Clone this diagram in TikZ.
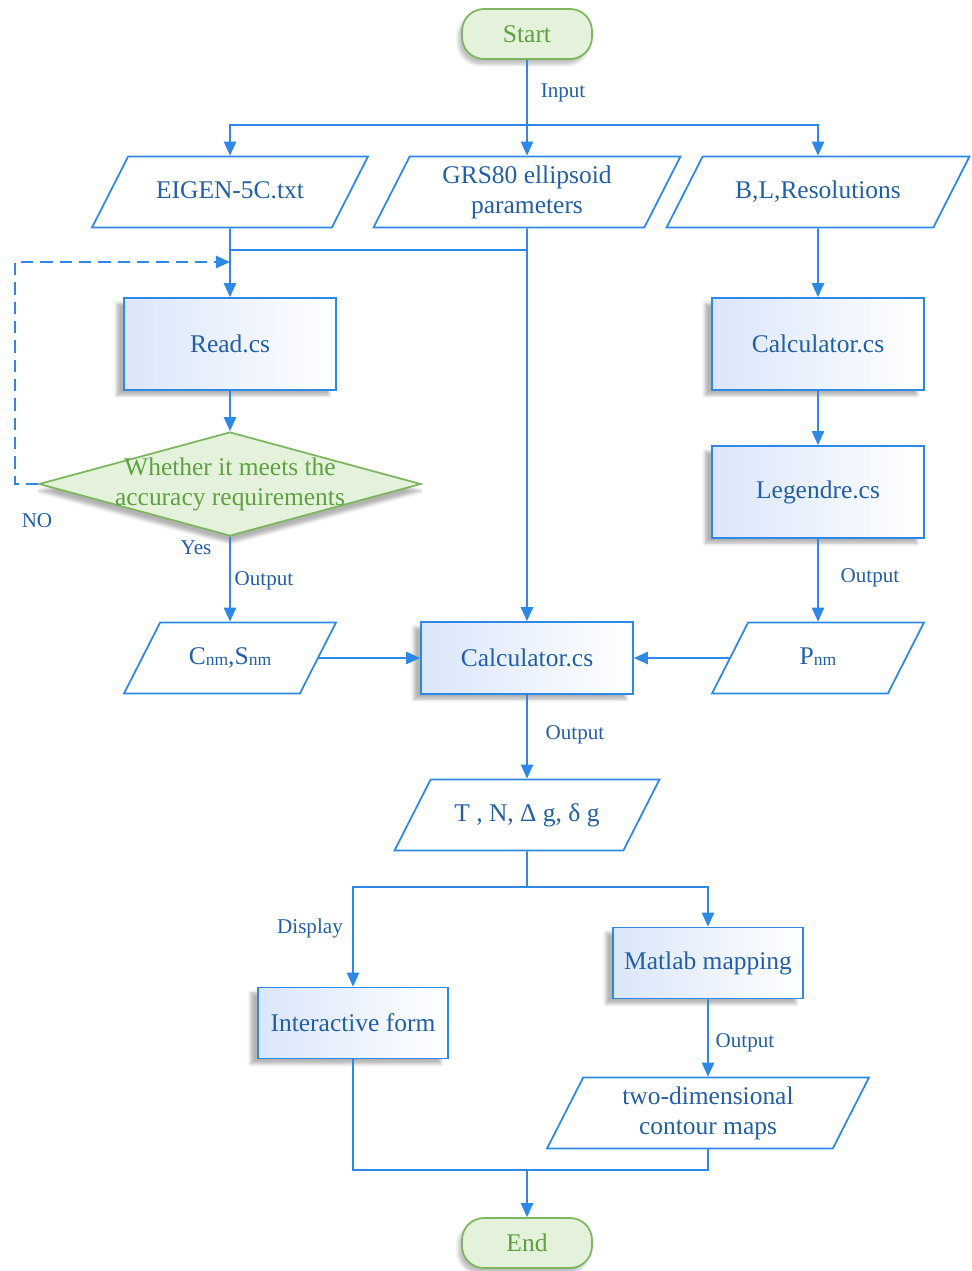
\documentclass[tikz,border=0pt]{standalone}
\usepackage{fontspec}
\setmainfont{Liberation Serif}
\usetikzlibrary{shapes.geometric, shadows.blur, arrows.meta}
\definecolor{lineblue}{RGB}{45,137,229}
\definecolor{textblue}{RGB}{35,95,165}
\definecolor{boxblue}{RGB}{218,230,250}
\definecolor{termgreen}{RGB}{125,182,95}
\definecolor{termfill}{RGB}{228,242,220}
\definecolor{termtext}{RGB}{95,160,65}
\newcommand{\nm}{\raisebox{-0.15ex}{\fontsize{10}{12}\selectfont nm}}
\tikzset{%
    process/.style={
      rectangle,
      draw=lineblue,
      left color=boxblue,
      right color=white,
      text=textblue,
      font=\fontsize{14.5}{17}\selectfont,
      minimum width=4.24cm,
      minimum height=1.84cm,
      blur shadow={shadow xshift=-4pt, shadow yshift=-3pt, shadow opacity=30}
    },
    io/.style={
      trapezium,
      trapezium left angle=63,
      trapezium right angle=117,
      trapezium stretches body=true,
      draw=lineblue,
      fill=white,
      text=textblue,
      align=center,
      font=\fontsize{14.5}{17}\selectfont,
      inner ysep=0.18cm,
      minimum height=1.42cm
    },
    oneline/.style={
      text height=10pt,
      text depth=3pt,
      inner ysep=0.48cm
    },
    terminal/.style={
      rectangle,
      rounded corners=12.5pt,
      draw=termgreen,
      fill=termfill,
      text=termtext,
      font=\fontsize{14.5}{17}\selectfont,
      minimum width=2.6cm,
      minimum height=1cm,
      blur shadow={shadow xshift=-2pt, shadow yshift=-3pt, shadow opacity=25}
    },
    decision/.style={
      diamond,
      draw=termgreen,
      fill=termfill,
      inner sep=0pt,
      minimum width=7.64cm,
      minimum height=2.08cm,
      blur shadow={shadow xshift=0pt, shadow yshift=-4pt, shadow opacity=30}
    },
    note/.style={
      text=textblue,
      font=\fontsize{12}{14}\selectfont,
      inner sep=1pt
    }
  }
\begin{document}
\begin{tikzpicture}[x=0.02cm, y=-0.02cm, >={Triangle[length=8pt, width=7pt]}, line width=1pt]
      \useasboundingbox (0,0) rectangle (971,1271);

      \node [terminal] (start) at (527,34) {Start};

      \node [io, oneline, minimum width=5.52cm] (eig) at (230,192) {EIGEN-5C.txt};
      \node [io, minimum width=6.14cm] (grs) at (527,192) {GRS80 ellipsoid\\parameters};
      \node [io, oneline, minimum width=6.06cm] (blr) at (818,192) {B,L,Resolutions};

      \node [process] (read) at (230,344) {Read.cs};
      \node [decision, label={[text=termtext, font=\fontsize{14.5}{17}\selectfont, align=center]center:Whether it meets the\\accuracy requirements}] (chk) at (230,484) {};

      \node [process] (calcr) at (818,344) {Calculator.cs};
      \node [process] (leg) at (818,492) {Legendre.cs};

      \node [io, oneline, minimum width=4.24cm] (cnm) at (230,658) {C\nm,S\nm};
      \node [process, minimum height=1.44cm] (calc) at (527,658) {Calculator.cs};
      \node [io, oneline, minimum width=4.24cm] (pnm) at (818,658) {P\nm};

      \node [io, oneline, minimum width=5.3cm] (tng) at (527,815) {T , N, Δ g, δ g};

      \node [process, minimum width=3.8cm, minimum height=1.42cm] (mat) at (708,963) {Matlab mapping};
      \node [process, minimum width=3.8cm, minimum height=1.42cm] (inter) at (353,1023) {Interactive form};
      \node [io, minimum width=6.44cm] (two) at (708,1113) {two-dimensional\\contour maps};

      \node [terminal] (end) at (527,1243) {End};

      \node [note] (lin) at (563,93) {Input};
      \node [note] (lno) at (37,521) {NO};
      \node [note] (lyes) at (196,548) {Yes};
      \node [note] (lout1) at (264,581) {Output};
      \node [note] (lout2) at (870,578) {Output};
      \node [note] (lout3) at (575,735) {Output};
      \node [note] (ldis) at (310,928) {Display};
      \node [note] (lout4) at (745,1043) {Output};

      \coordinate (split) at (527,125);
      \coordinate (jl) at (230,250);
      \coordinate (jr) at (527,250);
      \coordinate (loop) at (15,262);
      \coordinate (back) at (230,262);
      \coordinate (fork) at (527,887);
      \coordinate (join) at (527,1170);

      \begin{scope}[draw=lineblue]
      \draw [->] (start) -- (grs);
      \draw [->] (split) -| (eig);
      \draw [->] (split) -| (blr);

      \draw [->] (eig) -- (read);
      \draw (jl) -- (jr);
      \draw [->] (grs) -- (calc);
      \draw [->] (read) -- (chk);
      \draw [->, dash pattern=on 7pt off 4pt] (chk.west) -| (loop) -- (back);
      \draw [->] (chk) -- (cnm);

      \draw [->] (blr) -- (calcr);
      \draw [->] (calcr) -- (leg);
      \draw [->] (leg) -- (pnm);

      \draw [->] (cnm) -- (calc);
      \draw [->] (pnm) -- (calc);
      \draw [->] (calc) -- (tng);

      \draw (tng) -- (fork);
      \draw [->] (fork) -| (inter);
      \draw [->] (fork) -| (mat);
      \draw [->] (mat) -- (two);

      \draw (inter) |- (join);
      \draw (two) |- (join);
      \draw [->] (join) -- (end);
      \end{scope}
    \end{tikzpicture}
\end{document}
